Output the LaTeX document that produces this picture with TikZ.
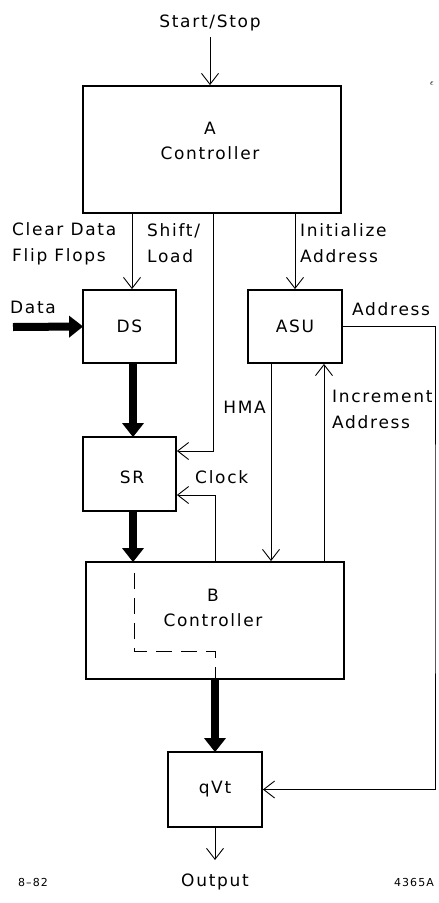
\documentclass[tikz,border=0pt]{standalone}
\usepackage{fontspec}
\setmainfont[LetterSpace=10]{DejaVu Sans}
\usetikzlibrary{arrows.meta}
\begin{document}
\begin{tikzpicture}[x=1pt,y=-1pt,
  box/.style={draw,line width=1.8pt,inner sep=0pt},
  lbl/.style={font=\fontsize{17}{26}\selectfont,inner sep=0pt,align=left},
  ctr/.style={font=\fontsize{17}{25}\selectfont,inner sep=0pt,align=center},
  sig/.style={line width=0.9pt,-{Straight Barb[length=11pt,width=17pt,line width=0.9pt]}},
  wire/.style={line width=0.9pt},
  bus/.style={line width=8pt,-{Triangle[length=14pt,width=21pt]},shorten >=-1pt},
  small/.style={font=\fontsize{11}{13}\selectfont,inner sep=0pt}
]
\useasboundingbox (0,0) rectangle (439,903);

% boxes
\node[box,minimum width=258pt,minimum height=127pt] (A) at (212,149.5) {};
\node[ctr] (Atxt) at (210,141) {A\\Controller};
\node[box,minimum width=93pt,minimum height=73pt,font=\fontsize{17}{20}\selectfont] (DS) at (129.5,326.5) {DS};
\node[box,minimum width=94pt,minimum height=73pt,font=\fontsize{17}{20}\selectfont] (ASU) at (295,326.5) {ASU};
\node[box,minimum width=93pt,minimum height=74pt] (SR) at (129.5,474) {};
\node[ctr] (SRtxt) at (132,477) {SR};
\node[box,minimum width=258pt,minimum height=117pt] (B) at (215,620.5) {};
\node[ctr] (Btxt) at (213,608) {B\\Controller};
\node[box,minimum width=94pt,minimum height=75pt,font=\fontsize{17}{20}\selectfont] (Q) at (215,789.5) {qVt};

% coordinates
\coordinate (xcl) at (132,0);
\coordinate (xsh) at (213,451);
\coordinate (xck) at (215,495);
\coordinate (xh) at (271,0);
\coordinate (xinc) at (324,0);
\coordinate (xr) at (435,560);
\coordinate (xth) at (133,0);
\coordinate (datain) at (13,327);
\coordinate (outend) at (215,860);
\coordinate (dtop) at (134,573);
\coordinate (dcorner) at (134,651);

% texts
\node[ctr] (start) at (210,23) {Start/Stop};
\node[lbl,anchor=west] (clr) at (12,243.5) {Clear Data\\Flip Flops};
\node[lbl,anchor=west] (shl) at (147,243.5) {Shift/\\Load};
\node[lbl,anchor=west] (ini) at (300,243.5) {Initialize\\Address};
\node[lbl,anchor=west] (data) at (10,307) {Data};
\node[lbl,anchor=west] (addr) at (352,309) {Address};
\node[lbl,anchor=east] (hma) at (266,407) {HMA};
\node[lbl,anchor=west] (inc) at (332,409.5) {Increment\\Address};
\node[lbl,anchor=west] (clk) at (195,477) {Clock};
\node[ctr] (outtxt) at (215,882) {Output};
\node[small] (date) at (33,882) {8–82};
\node[small] (num) at (414,882) {4365A};
\node[inner sep=0pt,font=\fontsize{9}{9}\selectfont] (mark) at (432,84) {$\epsilon$};

% signals
\draw[sig] ([yshift=-6pt]start.south -| A.north) ++(-2,0) coordinate (s0) -- (s0 |- A.north);
\draw[sig] (A.south -| xcl) -- (DS.north -| xcl);
\draw[sig] (A.south -| xsh) |- (SR.east |- xsh);
\draw[sig] (B.north -| xck) |- (SR.east |- xck);
\draw[sig] (A.south -| ASU.north) -- (ASU.north);
\draw[sig] (ASU.south -| xh) -- (B.north -| xh);
\draw[sig] (B.north -| xinc) -- (ASU.south -| xinc);
\draw[sig] (ASU.east) -| (xr) |- (Q.east);
\draw[sig] (Q.south) -- (outend);

% data buses
\draw[bus] (datain) -- (DS.west);
\draw[bus] (DS.south -| xth) -- (SR.north -| xth);
\draw[bus] (SR.south -| xth) -- (B.north -| xth);
\draw[bus] (B.south -| Q.north) -- (Q.north);

% dashed path
\draw[wire,dash pattern=on 16pt off 9pt] (dtop) -- (dcorner) -- (dcorner -| Q.north) -- (B.south -| Q.north);
\end{tikzpicture}
\end{document}
